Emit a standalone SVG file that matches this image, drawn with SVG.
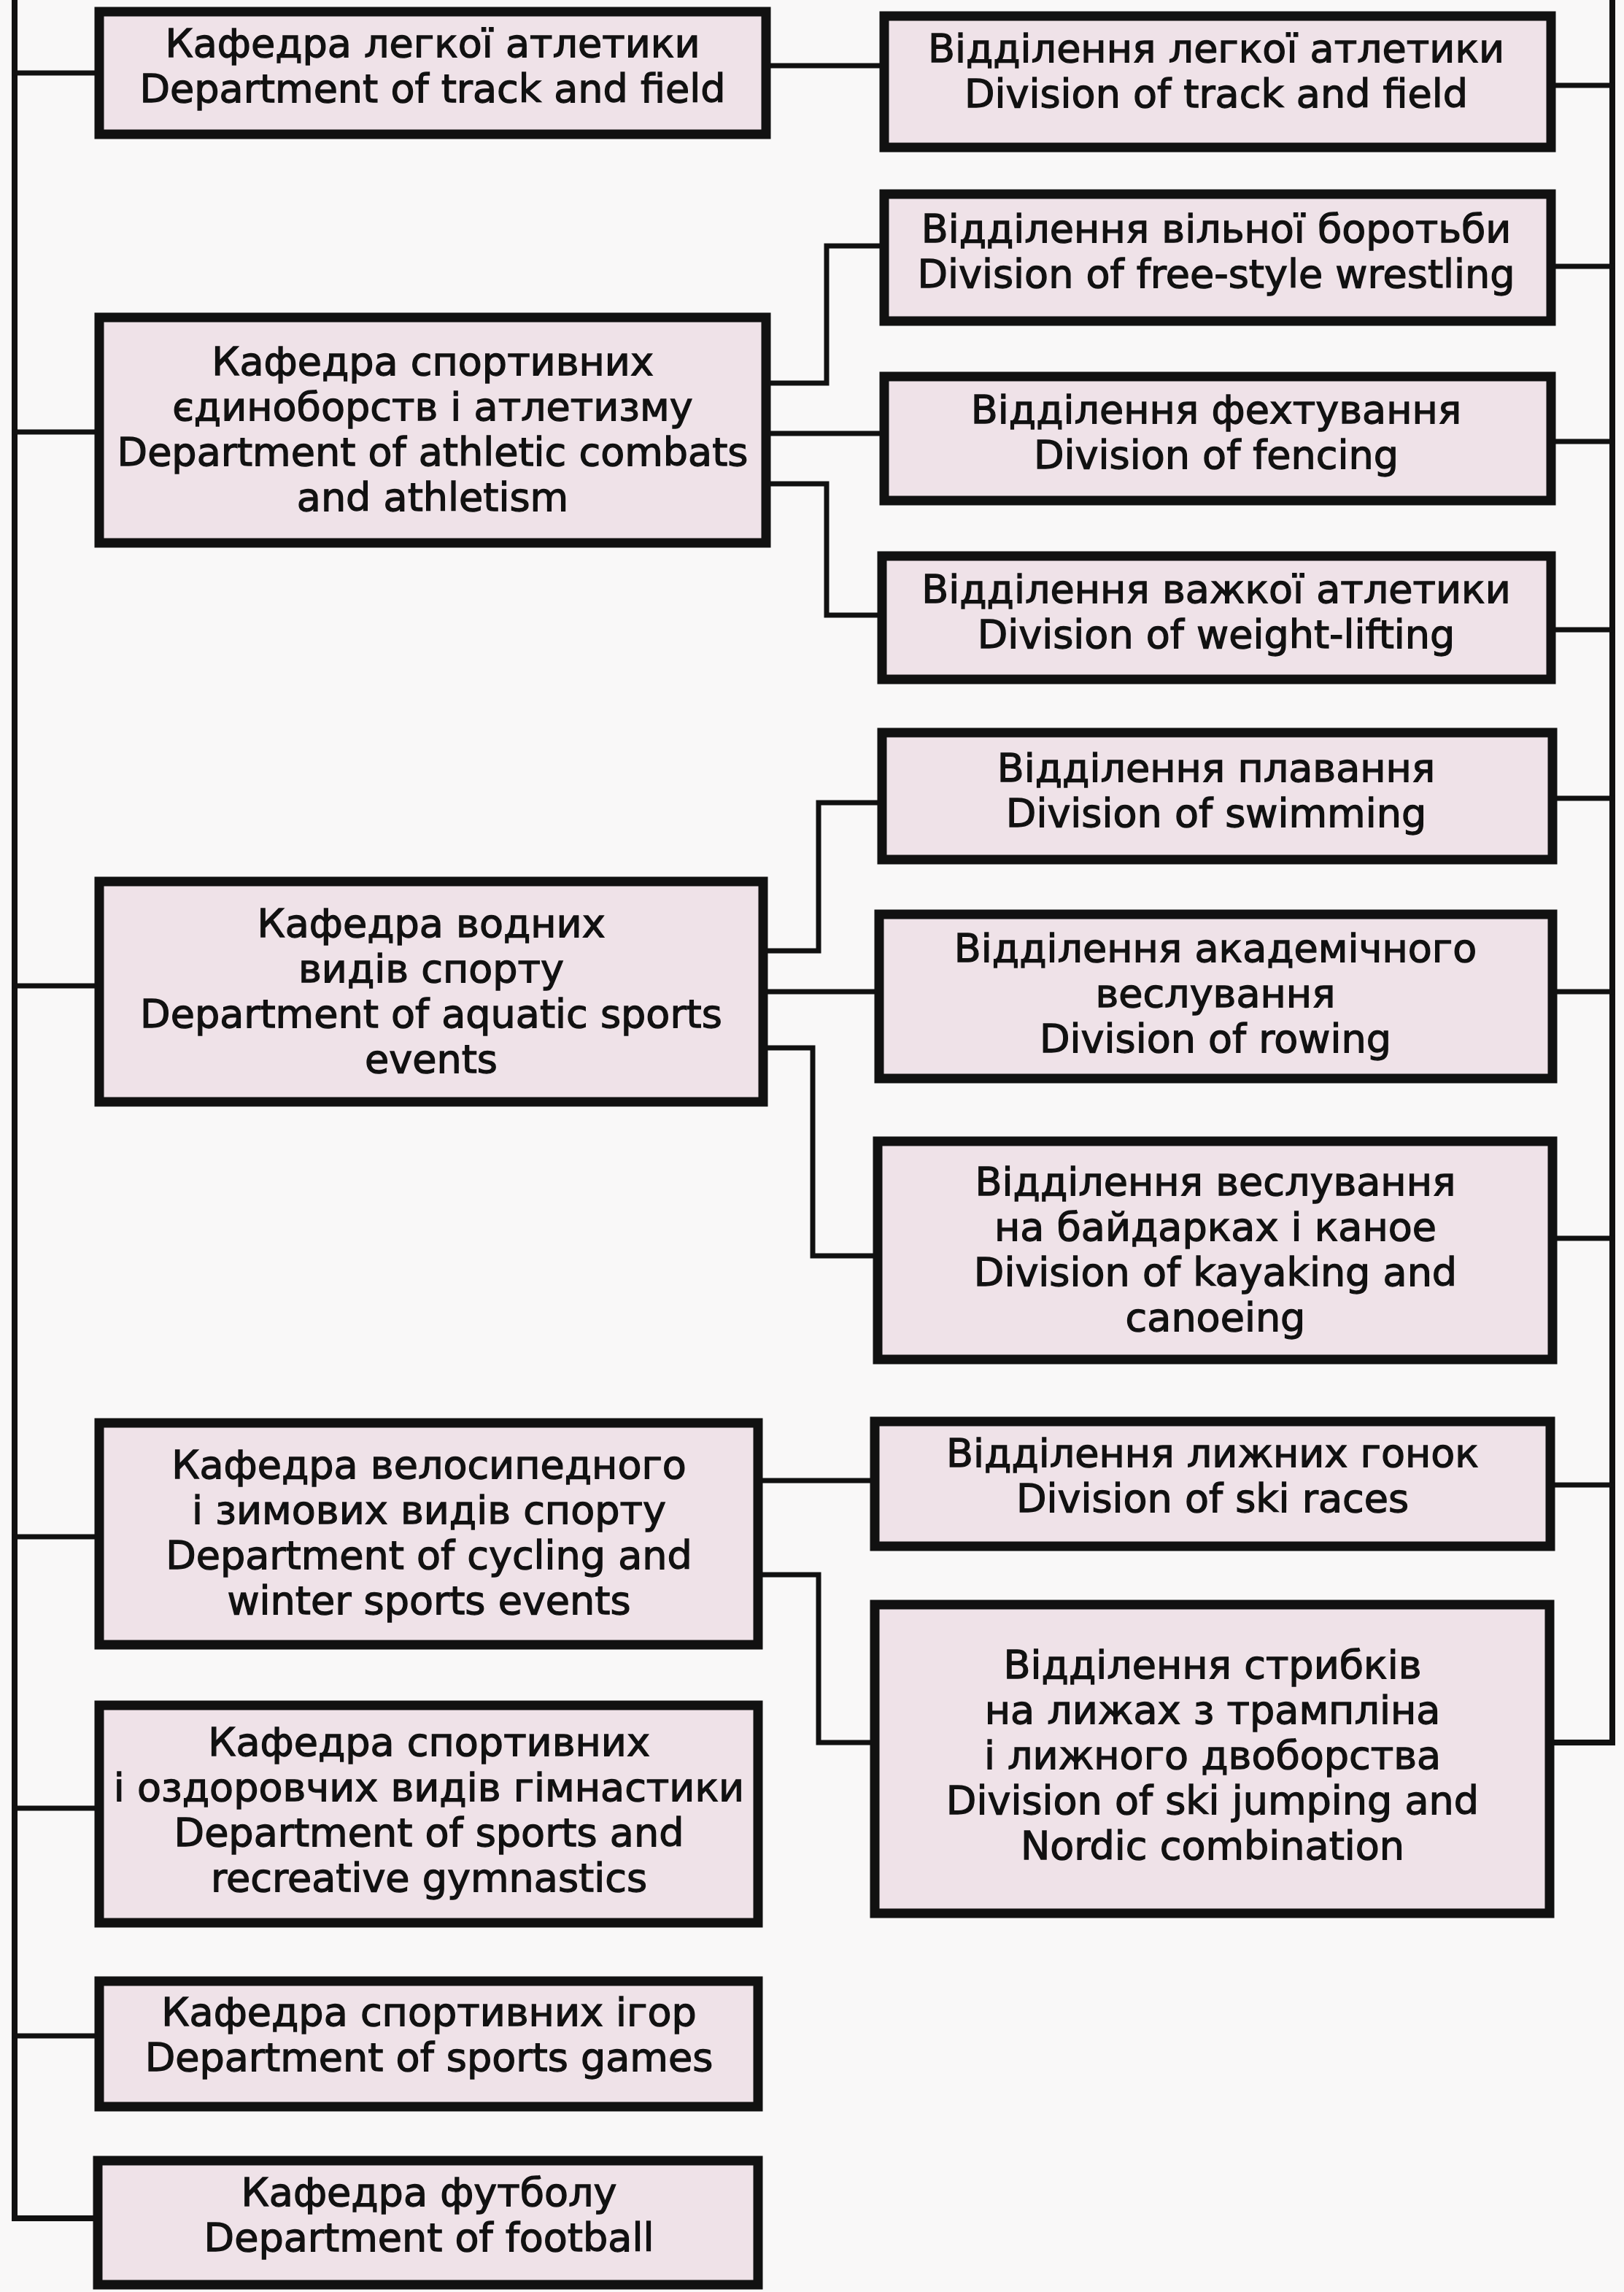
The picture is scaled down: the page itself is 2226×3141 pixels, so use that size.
<svg xmlns="http://www.w3.org/2000/svg" width="2226" height="3141" viewBox="0 0 2226 3141">
<style>
.box{fill:#efe2e8;stroke:#111;stroke-width:13}
.t{font-family:"DejaVu Sans",sans-serif;font-size:54px;fill:#111;stroke:#111;stroke-width:1.3;text-anchor:middle}
.c{fill:none;stroke:#111;stroke-width:7;stroke-linejoin:miter;stroke-linecap:square}
.trunk{fill:none;stroke:#111;stroke-width:8}
</style>
<rect x="0" y="0" width="2226" height="3141" fill="#f9f8f8"/>
<g id="connectors">
<path class="trunk" d="M20,0 V3040 H130"/>
<path class="c" d="M20,100 H130"/>
<path class="c" d="M20,592 H130"/>
<path class="c" d="M20,1351 H130"/>
<path class="c" d="M20,2106 H130"/>
<path class="c" d="M20,2478 H130"/>
<path class="c" d="M20,2790 H130"/>
<path class="c" d="M1056,90 H1206"/>
<path class="c" d="M1056,525 H1133 V337 H1206"/>
<path class="c" d="M1056,594 H1206"/>
<path class="c" d="M1056,663 H1133 V843 H1203"/>
<path class="c" d="M1052,1303 H1122 V1100 H1203"/>
<path class="c" d="M1052,1359 H1199"/>
<path class="c" d="M1052,1436 H1114 V1721 H1197"/>
<path class="c" d="M1045,2029 H1193"/>
<path class="c" d="M1045,2158 H1122 V2388 H1193"/>
<path class="trunk" d="M2210,0 V2388 H2130"/>
<path class="c" d="M2132,117 H2210"/>
<path class="c" d="M2132,365 H2210"/>
<path class="c" d="M2132,605 H2210"/>
<path class="c" d="M2132,863 H2210"/>
<path class="c" d="M2134,1094 H2210"/>
<path class="c" d="M2134,1359 H2210"/>
<path class="c" d="M2134,1697 H2210"/>
<path class="c" d="M2131,2035 H2210"/>
</g>
<g id="L1"><rect class="box" x="136" y="16" width="914" height="168"/>
<text class="t" x="593" y="78">Кафедра легкої атлетики</text>
<text class="t" x="593" y="140">Department of track and field</text></g>
<g id="L2"><rect class="box" x="136" y="435" width="914" height="309"/>
<text class="t" x="593" y="514">Кафедра спортивних</text>
<text class="t" x="593" y="576">єдиноборств і атлетизму</text>
<text class="t" x="593" y="638">Department of athletic combats</text>
<text class="t" x="593" y="700">and athletism</text></g>
<g id="L3"><rect class="box" x="136" y="1208" width="910" height="302"/>
<text class="t" x="591" y="1284">Кафедра водних</text>
<text class="t" x="591" y="1346">видів спорту</text>
<text class="t" x="591" y="1408">Department of aquatic sports</text>
<text class="t" x="591" y="1470">events</text></g>
<g id="L4"><rect class="box" x="136" y="1950" width="903" height="304"/>
<text class="t" x="588" y="2026">Кафедра велосипедного</text>
<text class="t" x="588" y="2088">і зимових видів спорту</text>
<text class="t" x="588" y="2150">Department of cycling and</text>
<text class="t" x="588" y="2212">winter sports events</text></g>
<g id="L5"><rect class="box" x="136" y="2337" width="903" height="298"/>
<text class="t" x="588" y="2406">Кафедра спортивних</text>
<text class="t" x="588" y="2468">і оздоровчих видів гімнастики</text>
<text class="t" x="588" y="2530">Department of sports and</text>
<text class="t" x="588" y="2592">recreative gymnastics</text></g>
<g id="L6"><rect class="box" x="136" y="2715" width="903" height="172"/>
<text class="t" x="588" y="2776">Кафедра спортивних ігор</text>
<text class="t" x="588" y="2838">Department of sports games</text></g>
<g id="L7"><rect class="box" x="134" y="2961" width="905" height="170"/>
<text class="t" x="588" y="3023">Кафедра футболу</text>
<text class="t" x="588" y="3085">Department of football</text></g>
<g id="R1"><rect class="box" x="1212" y="22" width="914" height="180"/>
<text class="t" x="1667" y="85">Відділення легкої атлетики</text>
<text class="t" x="1667" y="147">Division of track and field</text></g>
<g id="R2"><rect class="box" x="1212" y="266" width="914" height="174"/>
<text class="t" x="1667" y="332">Відділення вільної боротьби</text>
<text class="t" x="1667" y="394">Division of free-style wrestling</text></g>
<g id="R3"><rect class="box" x="1212" y="516" width="914" height="170"/>
<text class="t" x="1667" y="580">Відділення фехтування</text>
<text class="t" x="1667" y="642">Division of fencing</text></g>
<g id="R4"><rect class="box" x="1209" y="762" width="917" height="169"/>
<text class="t" x="1667" y="826">Відділення важкої атлетики</text>
<text class="t" x="1667" y="888">Division of weight-lifting</text></g>
<g id="R5"><rect class="box" x="1209" y="1004" width="919" height="174"/>
<text class="t" x="1667" y="1071">Відділення плавання</text>
<text class="t" x="1667" y="1133">Division of swimming</text></g>
<g id="R6"><rect class="box" x="1205" y="1253" width="923" height="225"/>
<text class="t" x="1666" y="1318">Відділення академічного</text>
<text class="t" x="1666" y="1380">веслування</text>
<text class="t" x="1666" y="1442">Division of rowing</text></g>
<g id="R7"><rect class="box" x="1203" y="1564" width="925" height="299"/>
<text class="t" x="1666" y="1638">Відділення веслування</text>
<text class="t" x="1666" y="1700">на байдарках і каное</text>
<text class="t" x="1666" y="1762">Division of kayaking and</text>
<text class="t" x="1666" y="1824">canoeing</text></g>
<g id="R8"><rect class="box" x="1199" y="1948" width="926" height="171"/>
<text class="t" x="1662" y="2010">Відділення лижних гонок</text>
<text class="t" x="1662" y="2072">Division of ski races</text></g>
<g id="R9"><rect class="box" x="1199" y="2199" width="925" height="423"/>
<text class="t" x="1662" y="2300">Відділення стрибків</text>
<text class="t" x="1662" y="2362">на лижах з трампліна</text>
<text class="t" x="1662" y="2424">і лижного двоборства</text>
<text class="t" x="1662" y="2486">Division of ski jumping and</text>
<text class="t" x="1662" y="2548">Nordic combination</text></g>
</svg>
